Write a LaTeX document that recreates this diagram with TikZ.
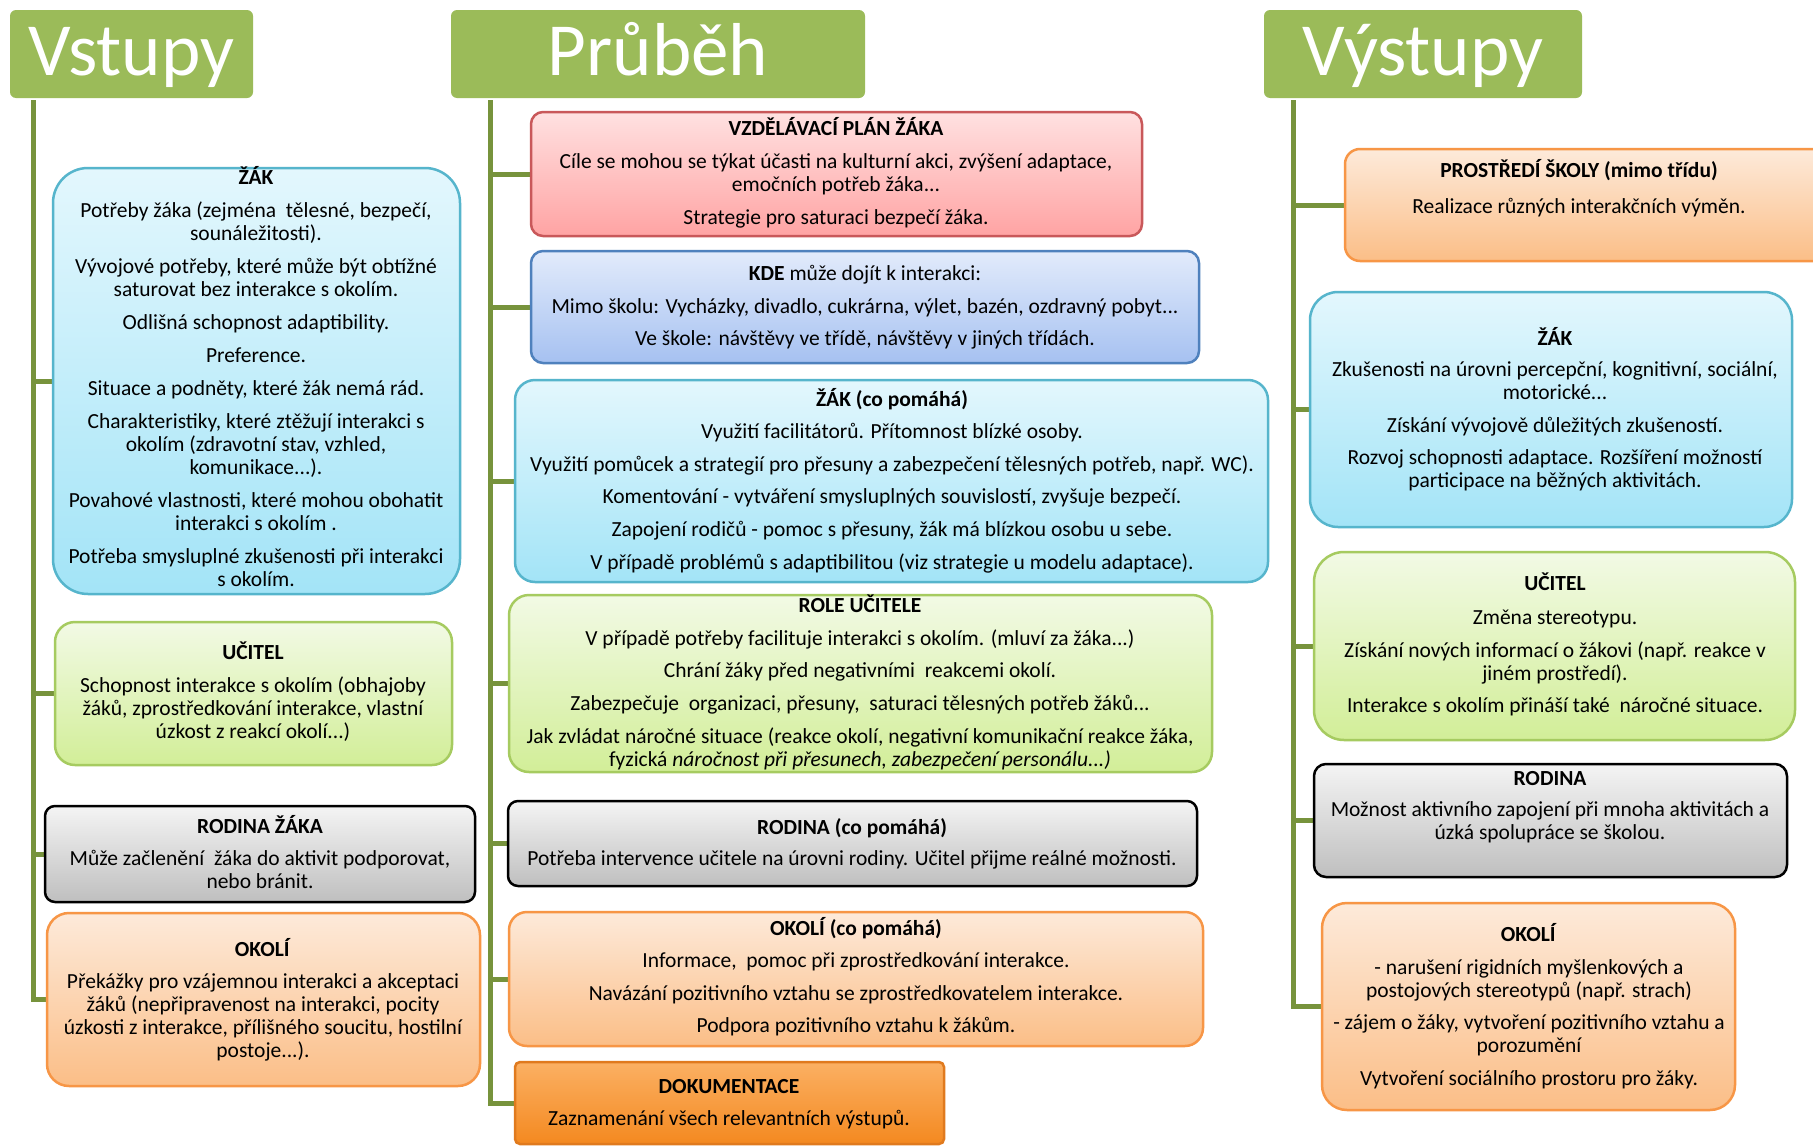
\documentclass[tikz,border=0pt]{standalone}
\usepackage{fontspec}
\setmainfont{Carlito}
\definecolor{hdrc}{HTML}{9BBB59}
\definecolor{trunkc}{HTML}{77933C}
\definecolor{cyanL}{HTML}{56B5CC}
\definecolor{cyanT}{HTML}{E3F7FD}
\definecolor{cyanB}{HTML}{A3E4F7}
\definecolor{redL}{HTML}{C9585A}
\definecolor{redT}{HTML}{FFE1E1}
\definecolor{redB}{HTML}{FFA3A3}
\definecolor{blueL}{HTML}{4F81BD}
\definecolor{blueT}{HTML}{E2EBFB}
\definecolor{blueB}{HTML}{A6C1F1}
\definecolor{greenL}{HTML}{A6CB60}
\definecolor{greenT}{HTML}{F2FAE5}
\definecolor{greenB}{HTML}{D2EE98}
\definecolor{grayT}{HTML}{F4F4F4}
\definecolor{grayB}{HTML}{BFBFBF}
\definecolor{orangeL}{HTML}{F79646}
\definecolor{orangeT}{HTML}{FDEADA}
\definecolor{orangeB}{HTML}{FBBE87}
\definecolor{dokL}{HTML}{E07A1E}
\definecolor{dokT}{HTML}{FBB063}
\definecolor{dokB}{HTML}{F48920}
\pgfdeclarelayer{bg}
\pgfsetlayers{bg,main}
% panel with corners (x1,y1)-(x2,y2) in picture units
\newcommand\panelbox[7]{%
  \node[#2, rounded corners=#7, minimum width={#5-#3}, minimum height={#6-#4}]
    (#1) at ({(#3+#5)/2},{(#4+#6)/2}) {};}
\begin{document}
\begin{tikzpicture}[x=1pt,y=-1pt,
  trunk/.style={draw=trunkc, line width=5pt},
  panel/.style={draw, line width=2.5pt, inner sep=0pt, outer sep=0pt},
  cyanpanel/.style={panel, draw=cyanL, top color=cyanT, bottom color=cyanB},
  redpanel/.style={panel, draw=redL, top color=redT, bottom color=redB},
  bluepanel/.style={panel, draw=blueL, top color=blueT, bottom color=blueB},
  greenpanel/.style={panel, draw=greenL, top color=greenT, bottom color=greenB},
  graypanel/.style={panel, draw=black, top color=grayT, bottom color=grayB},
  orangepanel/.style={panel, draw=orangeL, top color=orangeT, bottom color=orangeB},
  dokpanel/.style={panel, draw=dokL, top color=dokT, bottom color=dokB},
  hdr/.style={fill=hdrc, rounded corners=6pt, inner sep=0pt, outer sep=0pt,
    text=white, font=\fontsize{75}{80}\selectfont, text height=52pt, text depth=9pt},
  % anchored at the baseline of the last line
  txt/.style={anchor=base, align=center, inner sep=0pt, font=\fontsize{21.5}{23}\selectfont},
]
\useasboundingbox (0,0) rectangle (1813,1146);
\clip (0,0) rectangle (1813,1146);

% column headers
\node[hdr, minimum width=243, minimum height=88] (hVst) at (131.5,54) {Vstupy};
\node[hdr, minimum width=414, minimum height=88] (hPru) at (658,54) {Průběh};
\node[hdr, minimum width=318, minimum height=88] (hVys) at (1423,54) {Výstupy};

% trunk tops
\coordinate (tL) at (33.5,100);
\coordinate (tM) at (490,100);
\coordinate (tR) at (1293,100);

% panels: inputs
\panelbox{Lzak}{cyanpanel}{53}{168}{460}{594}{35pt}
\panelbox{Luc}{greenpanel}{55}{622}{452}{765}{20pt}
\panelbox{Lrod}{graypanel}{45}{806}{475}{902}{10pt}
\panelbox{Lok}{orangepanel}{47}{913}{480}{1086}{22pt}
% panels: process
\panelbox{Mvzd}{redpanel}{531}{112}{1142}{236}{12pt}
\panelbox{Mkde}{bluepanel}{531}{251}{1199}{363}{12pt}
\panelbox{Mzak}{cyanpanel}{515}{380}{1268}{582}{20pt}
\panelbox{Mrole}{greenpanel}{509}{595}{1212}{772}{20pt}
\panelbox{Mrod}{graypanel}{508}{801}{1197}{886}{10pt}
\panelbox{Mok}{orangepanel}{509}{912}{1203}{1046}{18pt}
\panelbox{Mdok}{dokpanel}{515}{1062}{944}{1144}{5pt}
% panels: outputs
\panelbox{Rpro}{orangepanel}{1345}{149}{1830}{261}{15pt}
\panelbox{Rzak}{cyanpanel}{1310}{292}{1792}{527}{28pt}
\panelbox{Ruc}{greenpanel}{1314}{552}{1795}{740}{30pt}
\panelbox{Rrod}{graypanel}{1314}{764}{1787}{877}{12pt}
\panelbox{Rok}{orangepanel}{1322}{903}{1735}{1110}{25pt}

% trunks and branches, behind the panels
\begin{pgfonlayer}{bg}
\fill[white] (0,0) rectangle (1813,1146);
\draw[trunk] (tL) |- (Lok.west);
\foreach \b in {Lzak,Luc,Lrod} \draw[trunk] (\b.west -| tL) -- (\b.west);
\draw[trunk] (tM) |- (Mdok.west);
\foreach \b in {Mvzd,Mkde,Mzak,Mrole,Mrod,Mok} \draw[trunk] (\b.west -| tM) -- (\b.west);
\draw[trunk] (tR) |- (Rok.west);
\foreach \b in {Rpro,Rzak,Ruc,Rrod} \draw[trunk] (\b.west -| tR) -- (\b.west);
\end{pgfonlayer}

% texts: inputs
\node[txt] (Lzak-t) at (256,586) {\textbf{ŽÁK}\\[10pt]
Potřeby žáka (zejména\ \ tělesné, bezpečí,\\sounáležitosti).\\[10pt]
Vývojové potřeby, které může být obtížné\\saturovat bez interakce s okolím.\\[10pt]
Odlišná schopnost adaptibility.\\[10pt]
Preference.\\[10pt]
Situace a podněty, které žák nemá rád.\\[10pt]
Charakteristiky, které ztěžují interakci s\\okolím (zdravotní stav, vzhled,\\komunikace...).\\[10pt]
Povahové vlastnosti, které mohou obohatit\\interakci s okolím .\\[10pt]
Potřeba smysluplné zkušenosti při interakci\\s okolím.};
\node[txt] (Luc-t) at (253,738) {\textbf{UČITEL}\\[10pt]
Schopnost interakce s okolím (obhajoby\\žáků, zprostředkování interakce, vlastní\\úzkost z reakcí okolí...)};
\node[txt] (Lrod-t) at (260,888) {\textbf{RODINA ŽÁKA}\\[9pt]
Může začlenění\ \ žáka do aktivit podporovat,\\nebo bránit.};
\node[txt] (Lok-t) at (263,1057) {\textbf{OKOLÍ}\\[9pt]
Překážky pro vzájemnou interakci a akceptaci\\žáků (nepřipravenost na interakci, pocity\\úzkosti z interakce, přílišného soucitu, hostilní\\postoje...).};

% texts: process
\node[txt] (Mvzd-t) at (836,224) {\textbf{VZDĚLÁVACÍ PLÁN ŽÁKA}\\[10pt]
Cíle se mohou se týkat účasti na kulturní akci, zvýšení adaptace,\\emočních potřeb žáka...\\[9.5pt]
Strategie pro saturaci bezpečí žáka.};
\node[txt] (Mkde-t) at (865,345) {\textbf{KDE} může dojít k interakci:\\[10pt]
Mimo školu: Vycházky, divadlo, cukrárna, výlet, bazén, ozdravný pobyt...\\[9pt]
Ve škole: návštěvy ve třídě, návštěvy v jiných třídách.};
\node[txt] (Mzak-t) at (892,569) {\textbf{ŽÁK (co pomáhá)}\\[9.6pt]
Využití facilitátorů. Přítomnost blízké osoby.\\[9.6pt]
Využití pomůcek a strategií pro přesuny a zabezpečení tělesných potřeb, např. WC).\\[9.6pt]
Komentování - vytváření smysluplných souvislostí, zvyšuje bezpečí.\\[9.6pt]
Zapojení rodičů - pomoc s přesuny, žák má blízkou osobu u sebe.\\[9.6pt]
V případě problémů s adaptibilitou (viz strategie u modelu adaptace).};
\node[txt] (Mrole-t) at (860,766) {\textbf{ROLE UČITELE}\\[10pt]
V případě potřeby facilituje interakci s okolím. (mluví za žáka...)\\[9pt]
Chrání žáky před negativními\ \ reakcemi okolí.\\[10pt]
Zabezpečuje\ \ organizaci, přesuny,\ \ saturaci tělesných potřeb žáků...\\[10pt]
Jak zvládat náročné situace (reakce okolí, negativní komunikační reakce žáka,\\fyzická \textit{náročnost při přesunech, zabezpečení personálu...)}};
\node[txt] (Mrod-t) at (852,865) {\textbf{RODINA (co pomáhá)}\\[8pt]
Potřeba intervence učitele na úrovni rodiny. Učitel přijme reálné možnosti.};
\node[txt] (Mok-t) at (856,1032.5) {\textbf{OKOLÍ (co pomáhá)}\\[9.4pt]
Informace,\ \ pomoc při zprostředkování interakce.\\[9.4pt]
Navázání pozitivního vztahu se zprostředkovatelem interakce.\\[9.4pt]
Podpora pozitivního vztahu k žákům.};
\node[txt] (Mdok-t) at (729,1125) {\textbf{DOKUMENTACE}\\[9pt]
Zaznamenání všech relevantních výstupů.};

% texts: outputs
\node[txt] (Rpro-t) at (1579,213) {\textbf{PROSTŘEDÍ ŠKOLY (mimo třídu)}\\[13pt]
Realizace různých interakčních výměn.};
\node[txt] (Rzak-t) at (1555,487) {\textbf{ŽÁK}\\[8pt]
Zkušenosti na úrovni percepční, kognitivní, sociální,\\motorické...\\[10pt]
Získání vývojově důležitých zkušeností.\\[9pt]
Rozvoj schopnosti adaptace. Rozšíření možností\\participace na běžných aktivitách.};
\node[txt] (Ruc-t) at (1555,712.5) {\textbf{UČITEL}\\[11pt]
Změna stereotypu.\\[10pt]
Získání nových informací o žákovi (např. reakce v\\jiném prostředí).\\[9pt]
Interakce s okolím přináší také\ \ náročné situace.};
\node[txt] (Rrod-t) at (1550,839) {\textbf{RODINA}\\[8pt]
Možnost aktivního zapojení při mnoha aktivitách a\\úzká spolupráce se školou.};
\node[txt] (Rok-t) at (1529,1085) {\textbf{OKOLÍ}\\[10pt]
- narušení rigidních myšlenkových a\\postojových stereotypů (např. strach)\\[9pt]
- zájem o žáky, vytvoření pozitivního vztahu a\\porozumění\\[10pt]
Vytvoření sociálního prostoru pro žáky.};
\end{tikzpicture}
\end{document}
